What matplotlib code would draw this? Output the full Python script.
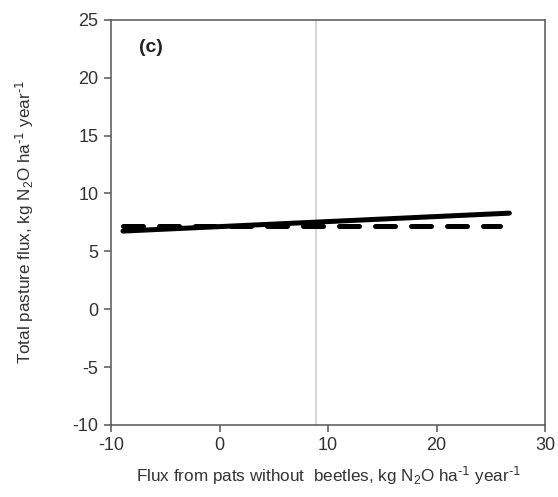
import matplotlib
matplotlib.use('Agg')
import matplotlib.pyplot as plt

plt.rcParams['font.family'] = ['Liberation Sans', 'DejaVu Sans']
plt.rcParams['mathtext.default'] = 'regular'
plt.rcParams['axes.unicode_minus'] = False

# fitted lines: with beetles (solid) and without (dashed)
solid_x = [-8.9, 26.7]
solid_y = [6.75, 8.3]
dash_x = [-8.9, 25.8]
dash_y = [7.15, 7.15]
vline_x = 8.9

xticks = [-10, 0, 10, 20, 30]
yticks = [-10, -5, 0, 5, 10, 15, 20, 25]

fig = plt.figure(figsize=(5.58, 4.97), dpi=100)
ax = fig.add_axes([0.199, 0.145, 0.778, 0.815])

ax.axvline(vline_x, color='#d4d4d4', lw=1.3, zorder=1)
ax.plot(solid_x, solid_y, color='black', lw=3.6, solid_capstyle='round', zorder=3)
ax.plot(dash_x, dash_y, color='black', lw=3.6, dashes=(4, 3.2),
        dash_capstyle='round', zorder=2)

ax.set_xlim(-10, 30)
ax.set_ylim(-10, 25)
ax.set_xticks(xticks)
ax.set_yticks(yticks)

for s in ax.spines.values():
    s.set_color('#555555')
    s.set_linewidth(1.1)
ax.tick_params(direction='out', length=5, width=1.1, color='#555555',
               labelsize=13, labelcolor='#333333', pad=4)

ax.set_xlabel(r'Flux from pats without  beetles, kg N$_2$O ha$^{\text{-1}}$ year$^{\text{-1}}$',
              fontsize=12.3, color='#333333', labelpad=7)
ax.set_ylabel(r'Total pasture flux, kg N$_2$O ha$^{\text{-1}}$ year$^{\text{-1}}$',
              fontsize=12.3, color='#333333', labelpad=26)

ax.text(-7.4, 22.6, '(c)', fontsize=14, fontweight='bold', color='#222222',
        va='center')

fig.savefig('out.png', dpi=100)
